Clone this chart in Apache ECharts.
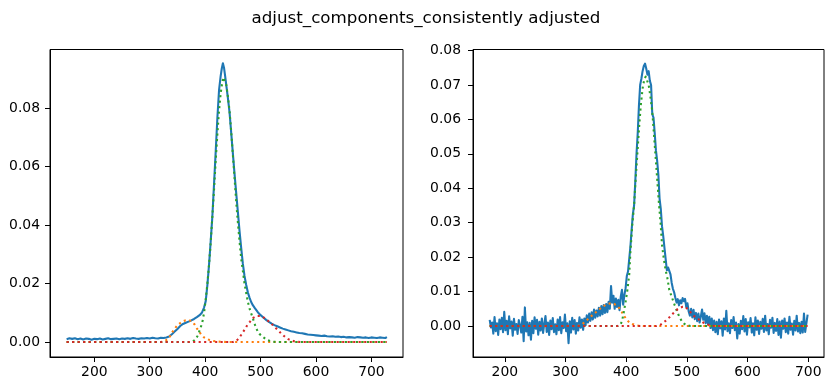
<!DOCTYPE html>
<html>
<head>
<meta charset="utf-8">
<script src="https://cdn.jsdelivr.net/npm/echarts@6/dist/echarts.min.js"></script>
<style>
  html, body { margin: 0; padding: 0; background: #fff; }
  #chart { width: 835px; height: 391px; }
</style>
</head>
<body>
<div id="chart"></div>
<script>
// ---- left panel: measured spectrum + three fitted components ----
const leftBlueX = [150,155,160,165,170,175,180,185,190,195,200,205,210,215,220,225,230,235,240,245,250,255,260,265,270,275,280,285,290,295,300,305,310,315,320,325,330,335,340,345,350,355,360,365,370,375,380,385,390,
  394,398,401,404,407,410,413,416,419,422,425,428,430,432,434,436,438,441,444,447,450,453,456,459,462,465,468,471,474,477,480,483,486,490,
  495,500,505,510,515,520,525,530,535,540,545,550,555,560,565,570,575,580,585,590,595,600,605,610,615,620,625,630,635,640,645,650,655,660,665,670,675,680,685,690,695,700,705,710,715,720,725,728];
const leftBlueY = [0.0010,0.0013,0.0011,0.0013,0.0010,0.0012,0.0009,0.0012,0.0011,0.0008,0.0011,0.0010,0.0012,0.0009,0.0011,0.0013,0.0010,0.0011,0.0012,0.0010,0.0012,0.0011,0.0013,0.0011,0.0014,0.0012,0.0011,0.0013,0.0012,0.0014,0.0012,0.0015,0.0013,0.0012,0.0015,0.0014,0.0016,0.0019,0.0027,0.0036,0.0045,0.0055,0.0062,0.0066,0.0070,0.0074,0.0079,0.0085,0.0092,
  0.0100,0.0118,0.0140,0.0195,0.0265,0.0345,0.0430,0.0540,0.0650,0.0765,0.0860,0.0910,0.0935,0.0953,0.0938,0.0910,0.0880,0.0835,0.0785,0.0715,0.0645,0.0575,0.0510,0.0445,0.0380,0.0322,0.0268,0.0226,0.0196,0.0170,0.0152,0.0137,0.0126,0.0115,
  0.0102,0.0092,0.0084,0.0076,0.0069,0.0063,0.0058,0.0054,0.0050,0.0046,0.0043,0.0040,0.0037,0.0035,0.0033,0.0031,0.0030,0.0028,0.0026,0.0025,0.0024,0.0023,0.0022,0.0021,0.0022,0.0020,0.0019,0.0020,0.0018,0.0019,0.0017,0.0018,0.0016,0.0017,0.0016,0.0015,0.0017,0.0016,0.0015,0.0016,0.0014,0.0016,0.0015,0.0014,0.0016,0.0015,0.0014,0.0017];

const leftOrangeX = [150,320,326,332,336,341,346,350,355,359,364,368,372,377,381,385,389,393,398,403,408,413,420,430,440,728];
const leftOrangeY = [0,0,0.0003,0.0009,0.0018,0.0035,0.0048,0.0058,0.0065,0.0070,0.0074,0.0075,0.0074,0.0069,0.0060,0.0047,0.0036,0.0025,0.0016,0.0011,0.0007,0.0004,0.0002,0.0001,0,0];

const leftGreenX = [150,372,378,382,386,389,392,395,398,401,404,407,410,413,416,419,422,425,428,431,433,435,438,441,444,447,450,453,456,459,462,465,468,471,474,477,480,483,486,489,492,495,498,502,506,512,520,530,728];
const leftGreenY = [0,0,0.0002,0.0008,0.0020,0.0035,0.0050,0.0069,0.0100,0.0145,0.0200,0.0265,0.0340,0.0430,0.0520,0.0620,0.0710,0.0790,0.0850,0.0890,0.0905,0.0900,0.0880,0.0840,0.0790,0.0720,0.0640,0.0560,0.0480,0.0410,0.0345,0.0285,0.0243,0.0200,0.0168,0.0138,0.0115,0.0098,0.0082,0.0064,0.0048,0.0036,0.0028,0.0021,0.0015,0.0007,0.0002,0,0];

const leftRedX = [150,450,456,461,467,472,476,481,485,490,494,499,503,508,512,518,524,530,536,541,545,550,554,560,566,575,728];
const leftRedY = [0,0,0.0004,0.0013,0.0030,0.0045,0.0058,0.0070,0.0081,0.0086,0.0089,0.0089,0.0087,0.0081,0.0075,0.0065,0.0055,0.0043,0.0032,0.0023,0.0016,0.0010,0.0007,0.0003,0.0001,0,0];

// ---- right panel: noisier spectrum, sampled every 2 units from 175 ----
const rightBlueX = [];
for (let x = 175; x <= 699; x += 2) rightBlueX.push(x);
const rightBlueY = [
  // 175 - 329 flat baseline
  0.0018,-0.0004,0.0010,-0.0022,0.0026,-0.0015,0.0008,-0.0026,0.0019,-0.0009,
  0.0024,-0.0018,0.0041,-0.0012,0.0015,-0.0024,0.0028,-0.0007,0.0013,-0.0028,
  0.0021,-0.0011,0.0006,-0.0023,0.0017,0.0002,-0.0019,0.0027,-0.0044,0.0054,
  -0.0016,0.0011,-0.0027,0.0009,-0.0040,0.0015,-0.0021,0.0025,-0.0008,0.0018,
  -0.0025,0.0012,-0.0013,0.0022,-0.0020,0.0007,0.0029,-0.0017,0.0010,-0.0026,
  0.0016,-0.0009,0.0023,-0.0018,0.0005,-0.0024,0.0019,-0.0012,0.0026,-0.0021,
  0.0011,-0.0006,0.0033,-0.0015,0.0008,-0.0050,0.0014,-0.0019,0.0024,-0.0010,
  0.0017,-0.0022,0.0009,-0.0013,0.0025,-0.0005,0.0019,-0.0011,
  // 331 - 371 rising shoulder
  0.0022,0.0002,0.0031,0.0010,0.0036,0.0015,0.0040,0.0019,0.0048,0.0024,
  0.0045,0.0028,0.0053,0.0030,0.0058,0.0034,0.0061,0.0038,0.0064,0.0040,0.0070,
  // 373 - 399
  0.0050,0.0116,0.0068,0.0088,0.0050,0.0080,0.0055,0.0076,0.0046,0.0085,0.0105,0.0062,0.0090,0.0110,
  // 401 - 479 main peak
  0.0145,0.0158,0.0195,0.0232,0.0280,0.0325,0.0350,0.0420,0.0500,0.0560,
  0.0640,0.0700,0.0718,0.0740,0.0755,0.0762,0.0748,0.0730,0.0740,0.0712,
  0.0700,0.0615,0.0605,0.0560,0.0510,0.0480,0.0440,0.0370,0.0340,0.0290,
  0.0262,0.0228,0.0195,0.0162,0.0170,0.0175,0.0150,0.0125,0.0108,0.0098,
  // 481 - 545 right shoulder
  0.0082,0.0068,0.0078,0.0060,0.0075,0.0066,0.0081,0.0072,0.0079,0.0055,
  0.0066,0.0042,0.0030,0.0050,0.0025,0.0047,0.0020,0.0038,0.0014,0.0036,
  0.0010,0.0028,0.0048,0.0018,0.0037,0.0008,0.0030,0.0005,0.0027,-0.0006,
  0.0022,-0.0012,0.0016,
  // 547 - 699 flat baseline
  -0.0018,0.0012,-0.0024,0.0019,-0.0007,0.0014,-0.0028,0.0022,-0.0010,0.0044,
  -0.0015,0.0008,-0.0021,0.0017,-0.0006,0.0026,-0.0012,0.0010,-0.0036,0.0006,
  -0.0022,0.0015,-0.0009,0.0029,-0.0016,0.0020,-0.0025,0.0011,-0.0004,0.0023,
  -0.0019,0.0008,-0.0027,0.0025,-0.0011,0.0016,-0.0023,0.0012,-0.0008,0.0021,
  -0.0017,0.0030,-0.0013,0.0006,-0.0024,0.0018,-0.0005,0.0024,-0.0020,0.0009,
  -0.0014,0.0020,-0.0026,0.0013,-0.0034,0.0016,-0.0008,0.0022,-0.0018,0.0010,
  -0.0022,0.0027,-0.0011,0.0007,-0.0025,0.0015,-0.0013,0.0030,-0.0016,0.0009,
  -0.0021,0.0012,-0.0019,0.0036,-0.0017,-0.0020,0.0033];

const rightOrangeX = [175,320,326,332,338,344,350,355,360,365,370,375,380,385,389,393,397,401,405,410,415,420,430,699];
const rightOrangeY = [0,0,0.0003,0.0012,0.0022,0.0031,0.0040,0.0047,0.0055,0.0060,0.0064,0.0066,0.0064,0.0059,0.0051,0.0040,0.0028,0.0018,0.0011,0.0006,0.0003,0.0001,0,0];

const rightGreenX = [175,386,390,393,396,399,402,405,407,410,413,415,418,421,424,427,430,432,434,437,440,443,446,449,451,454,457,459,462,465,468,471,476,480,484,488,492,496,500,506,699];
const rightGreenY = [0,0,0.0003,0.0013,0.0040,0.0070,0.0105,0.0150,0.0216,0.0293,0.0350,0.0410,0.0490,0.0570,0.0640,0.0690,0.0718,0.0724,0.0722,0.0700,0.0665,0.0622,0.0550,0.0478,0.0429,0.0355,0.0290,0.0235,0.0195,0.0162,0.0138,0.0105,0.0080,0.0060,0.0042,0.0025,0.0013,0.0006,0.0002,0,0];

const rightRedX = [175,450,456,461,465,469,473,477,481,485,489,493,497,503,511,519,526,533,540,548,699];
const rightRedY = [0,0,0.0003,0.0010,0.0015,0.0022,0.0028,0.0036,0.0043,0.0049,0.0053,0.0056,0.0056,0.0046,0.0030,0.0020,0.0011,0.0005,0.0001,0,0];

const xTicks = [200, 300, 400, 500, 600, 700];
const leftYTicks = [0, 0.02, 0.04, 0.06, 0.08];
const rightYTicks = [0, 0.01, 0.02, 0.03, 0.04, 0.05, 0.06, 0.07, 0.08];

const FONT = 'DejaVu Sans';
const LW = 2.08;
const DOT = [2.1, 3.4];

function pairs(xs, ys) {
  return xs.map((x, i) => [x, ys[i]]);
}

function xAxis(gridIndex, min, max) {
  return {
    gridIndex, type: 'value', min, max,
    axisLine: { show: true, onZero: false, lineStyle: { color: '#000', width: 1 } },
    axisTick: { show: true, length: 5, customValues: xTicks, lineStyle: { color: '#000', width: 1 } },
    axisLabel: { customValues: xTicks, fontSize: 13.9, color: '#000', fontFamily: FONT, margin: 8 },
    splitLine: { show: false },
  };
}

function yAxis(gridIndex, min, max, ticks, margin) {
  return {
    gridIndex, type: 'value', min, max,
    axisLine: { show: true, onZero: false, lineStyle: { color: '#000', width: 1 } },
    axisTick: { show: true, length: 5, customValues: ticks, lineStyle: { color: '#000', width: 1 } },
    axisLabel: {
      customValues: ticks, fontSize: 13.9, color: '#000', fontFamily: FONT, margin,
      formatter: (v) => v.toFixed(2),
    },
    splitLine: { show: false },
  };
}

function line(idx, xs, ys, color, dotted) {
  return {
    type: 'line', xAxisIndex: idx, yAxisIndex: idx,
    data: pairs(xs, ys),
    showSymbol: false, symbol: 'none', silent: true,
    lineStyle: { color, width: LW, type: dotted ? DOT : 'solid', cap: 'butt', join: 'round' },
    itemStyle: { color },
  };
}

const chart = echarts.init(document.getElementById('chart'), null, { renderer: 'canvas' });
chart.setOption({
  animation: false,
  backgroundColor: '#fff',
  title: {
    text: 'adjust_components_consistently adjusted',
    left: 426, top: 10, textAlign: 'center', padding: 0,
    textStyle: { fontSize: 16.7, fontWeight: 'normal', color: '#000', fontFamily: FONT },
  },
  grid: [
    { left: 50, top: 49.5, width: 353, height: 307.5, show: true, borderColor: '#000', borderWidth: 1, containLabel: false },
    { left: 473, top: 49.5, width: 351, height: 307.5, show: true, borderColor: '#000', borderWidth: 1, containLabel: false },
  ],
  xAxis: [xAxis(0, 120, 757), xAxis(1, 147.5, 726)],
  yAxis: [yAxis(0, -0.0051, 0.1000, leftYTicks, 10), yAxis(1, -0.0090, 0.0803, rightYTicks, 12)],
  series: [
    line(0, leftBlueX, leftBlueY, '#1f77b4', false),
    line(0, leftOrangeX, leftOrangeY, '#ff7f0e', true),
    line(0, leftGreenX, leftGreenY, '#2ca02c', true),
    line(0, leftRedX, leftRedY, '#d62728', true),
    line(1, rightBlueX, rightBlueY, '#1f77b4', false),
    line(1, rightOrangeX, rightOrangeY, '#ff7f0e', true),
    line(1, rightGreenX, rightGreenY, '#2ca02c', true),
    line(1, rightRedX, rightRedY, '#d62728', true),
  ],
});
</script>
</body>
</html>
